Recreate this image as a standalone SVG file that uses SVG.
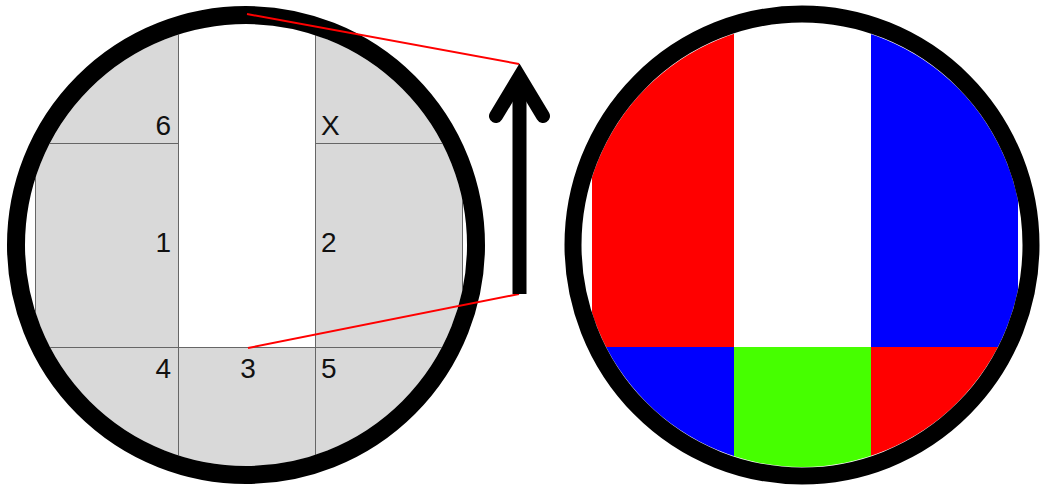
<svg xmlns="http://www.w3.org/2000/svg" width="1040" height="489" viewBox="0 0 1040 489">
<style>
.lbl{font-family:"Liberation Sans",Arial,sans-serif;font-size:28px;fill:#111}
.grid{stroke:#666;stroke-width:1;fill:none}
.ring{fill:none;stroke:#000}
.red{stroke:#f00;stroke-width:2;fill:none}
</style>
<defs>
<clipPath id="clipL"><circle cx="246" cy="245" r="221"/></clipPath>
<clipPath id="clipR"><ellipse cx="802" cy="245" rx="220.5" ry="222"/></clipPath>
</defs>
<rect width="1040" height="489" fill="#fff"/>
<g id="left-view">
<g clip-path="url(#clipL)">
<rect x="35" y="0" width="428" height="489" fill="#d9d9d9"/>
<rect x="178.5" y="0" width="137" height="347.5" fill="#fff"/>
<line class="grid" x1="35.5" y1="0" x2="35.5" y2="489"/>
<line class="grid" x1="462.5" y1="0" x2="462.5" y2="489"/>
<line class="grid" x1="178.5" y1="0" x2="178.5" y2="489"/>
<line class="grid" x1="315.5" y1="0" x2="315.5" y2="489"/>
<line class="grid" x1="35" y1="143.5" x2="178.5" y2="143.5"/>
<line class="grid" x1="315.5" y1="143.5" x2="463" y2="143.5"/>
<line class="grid" x1="35" y1="347.5" x2="463" y2="347.5"/>
</g>
<circle class="ring" cx="246" cy="245" r="230" stroke-width="18"/>
</g>
<g id="labels">
<text class="lbl" x="171" y="135" text-anchor="end">6</text>
<text class="lbl" x="321" y="135">X</text>
<text class="lbl" x="171" y="252" text-anchor="end">1</text>
<text class="lbl" x="321" y="252">2</text>
<text class="lbl" x="171" y="378" text-anchor="end">4</text>
<text class="lbl" x="248" y="378" text-anchor="middle">3</text>
<text class="lbl" x="321" y="378">5</text>
</g>
<g id="right-view">
<g clip-path="url(#clipR)">
<rect x="592" y="0" width="142" height="347" fill="#f00"/>
<rect x="734" y="0" width="137" height="347" fill="#fff"/>
<rect x="871" y="0" width="147" height="347" fill="#00f"/>
<rect x="592" y="347" width="142" height="142" fill="#00f"/>
<rect x="734" y="347" width="137" height="142" fill="#46ff00"/>
<rect x="871" y="347" width="147" height="142" fill="#f00"/>
</g>
<ellipse class="ring" cx="802" cy="245" rx="229" ry="231" stroke-width="17"/>
</g>
<g id="connectors">
<line class="red" x1="247" y1="14" x2="519" y2="64"/>
<line class="red" x1="248" y1="348" x2="519" y2="294"/>
<g id="arrow">
<line x1="519.5" y1="294" x2="519.5" y2="80" stroke="#000" stroke-width="14"/>
<polyline points="496,116 519.5,77 543,116" fill="none" stroke="#000" stroke-width="14" stroke-linecap="round" stroke-linejoin="miter"/>
</g>
</g>
</svg>
